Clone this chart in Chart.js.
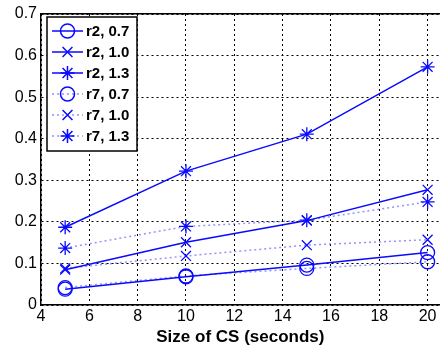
<!DOCTYPE html>
<html>
<head>
<meta charset="utf-8">
<script src="https://cdn.jsdelivr.net/npm/chart.js@4/dist/chart.umd.min.js"></script>
<style>
  html, body { margin: 0; padding: 0; background: #fff; }
  #wrap { width: 448px; height: 348px; }
</style>
</head>
<body>
<div id="wrap"><canvas id="csChart" width="448" height="348"></canvas></div>
<script>
// размер CS (секунды)
const csSizes = [5, 10, 15, 20];

// значения серий
const r2_07 = [0.038, 0.068, 0.096, 0.126];
const r2_10 = [0.085, 0.151, 0.203, 0.277];
const r2_13 = [0.187, 0.322, 0.411, 0.573];
const r7_07 = [0.042, 0.070, 0.088, 0.104];
const r7_10 = [0.088, 0.118, 0.144, 0.157];
const r7_13 = [0.137, 0.189, 0.204, 0.248];

const seriesLabels = ["r2, 0.7", "r2, 1.0", "r2, 1.3", "r7, 0.7", "r7, 1.0", "r7, 1.3"];
const xTicks = [4, 6, 8, 10, 12, 14, 16, 18, 20];
const yTicks = [0, 0.1, 0.2, 0.3, 0.4, 0.5, 0.6, 0.7];

const BLUE = "#0a0aff";
const BLUE_DOT = "rgba(60,60,255,0.55)";
const FONT = "'Liberation Sans', Arial, sans-serif";

function makeSet(label, values, style, dotted) {
  return {
    label: label,
    data: values.map((v, i) => ({ x: csSizes[i], y: v })),
    borderColor: dotted ? BLUE_DOT : BLUE,
    borderWidth: 1.5,
    borderDash: dotted ? [2, 3] : [],
    pointStyle: style,
    pointRadius: 7,
    pointBorderWidth: 1.3,
    pointBorderColor: BLUE,
    pointBackgroundColor: "rgba(0,0,0,0)",
    fill: false,
    tension: 0,
  };
}

const datasets = [
  makeSet(seriesLabels[0], r2_07, "circle", false),
  makeSet(seriesLabels[1], r2_10, "crossRot", false),
  makeSet(seriesLabels[2], r2_13, "star", false),
  makeSet(seriesLabels[3], r7_07, "circle", true),
  makeSet(seriesLabels[4], r7_10, "crossRot", true),
  makeSet(seriesLabels[5], r7_13, "star", true),
];

// легенда в стиле MATLAB: линия + маркер
const boxLegend = {
  id: "boxLegend",
  afterDatasetsDraw(chart) {
    const ctx = chart.ctx;
    const left = 47, top = 17, w = 90, h = 134;
    ctx.save();
    ctx.fillStyle = "#fff";
    ctx.fillRect(left, top, w, h);
    ctx.strokeStyle = "#000";
    ctx.lineWidth = 1.5;
    ctx.setLineDash([]);
    ctx.strokeRect(left, top, w, h);
    chart.data.datasets.forEach((ds, i) => {
      const y = 31 + i * 21;
      ctx.beginPath();
      ctx.setLineDash(ds.borderDash);
      ctx.strokeStyle = ds.borderColor;
      ctx.lineWidth = ds.borderWidth;
      ctx.moveTo(52, y);
      ctx.lineTo(83, y);
      ctx.stroke();
      ctx.setLineDash([]);
      ctx.strokeStyle = BLUE;
      ctx.fillStyle = "rgba(0,0,0,0)";
      Chart.helpers.drawPoint(ctx, {
        pointStyle: ds.pointStyle,
        radius: 7,
        rotation: 0,
        borderWidth: ds.pointBorderWidth,
      }, 67.5, y);
      ctx.fillStyle = "#000";
      ctx.font = "bold 15px " + FONT;
      ctx.textBaseline = "middle";
      ctx.textAlign = "left";
      ctx.fillText(ds.label, 86, y + 1);
    });
    ctx.restore();
  },
};

new Chart(document.getElementById("csChart").getContext("2d"), {
  type: "line",
  data: { datasets: datasets },
  options: {
    responsive: false,
    animation: false,
    layout: { padding: { top: 14, right: 0, left: 0, bottom: 0 } },
    plugins: {
      legend: { display: false },
      tooltip: { enabled: false },
    },
    scales: {
      x: {
        type: "linear",
        min: 4,
        max: 20.5,
        afterBuildTicks: (axis) => { axis.ticks = xTicks.map((v) => ({ value: v })); },
        afterFit: (axis) => { axis.height = 43; },
        ticks: {
          color: "#000",
          padding: 2,
          maxRotation: 0,
          font: { size: 16, family: FONT },
        },
        grid: { color: "#000", lineWidth: 1, drawTicks: false },
        border: { display: true, color: "#000", width: 1.5, dash: [2, 3] },
        title: {
          display: true,
          text: "Size of CS (seconds)",
          color: "#000",
          padding: { top: 0, bottom: 0 },
          font: { size: 17, weight: "bold", family: FONT },
        },
      },
      xTop: {
        type: "linear",
        position: "top",
        min: 4,
        max: 20.5,
        ticks: { display: false },
        grid: { display: false, drawTicks: false },
        border: { display: true, color: "#000", width: 1.5 },
        afterFit: (axis) => { axis.height = 0; },
      },
      y: {
        min: 0,
        max: 0.7,
        afterBuildTicks: (axis) => { axis.ticks = yTicks.map((v) => ({ value: v })); },
        afterFit: (axis) => { axis.width = 41; },
        ticks: {
          color: "#000",
          padding: 4,
          font: { size: 16, family: FONT },
          callback: (v) => String(Math.round(v * 10) / 10),
        },
        grid: { color: "#000", lineWidth: 1, drawTicks: false },
        border: { display: true, color: "#000", width: 1.5, dash: [2, 3] },
      },
    },
  },
  plugins: [boxLegend],
});
</script>
</body>
</html>
